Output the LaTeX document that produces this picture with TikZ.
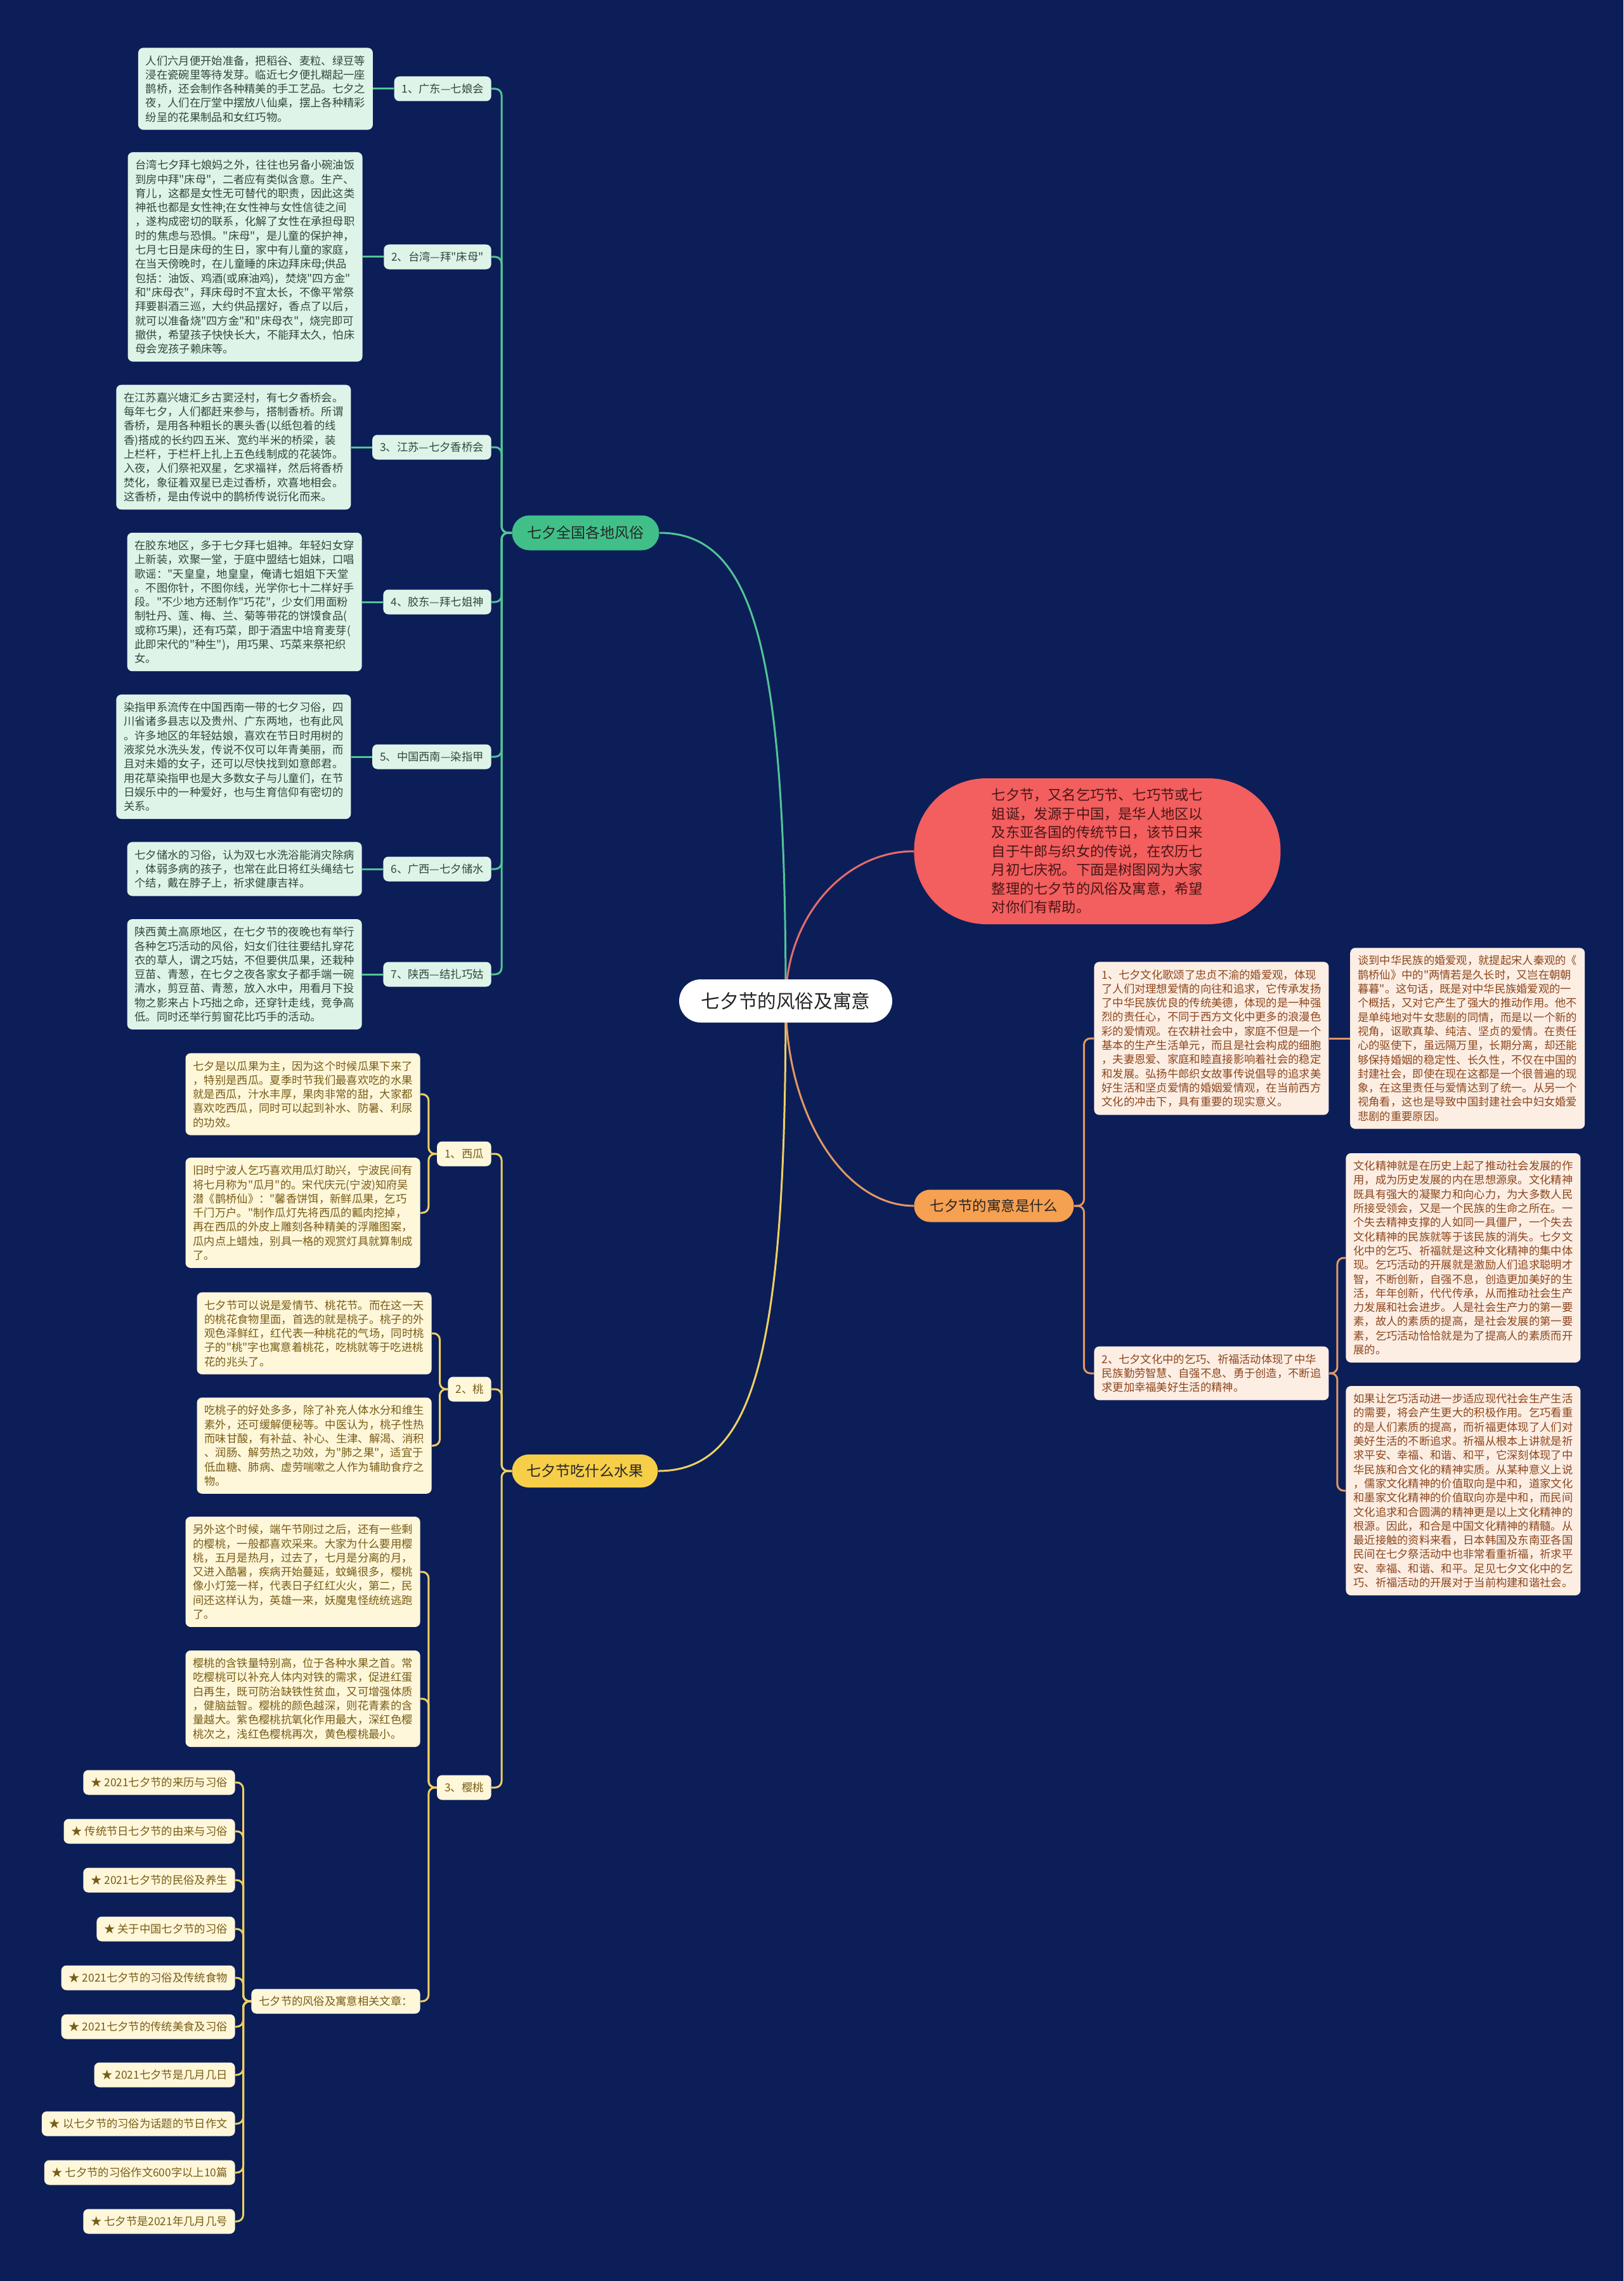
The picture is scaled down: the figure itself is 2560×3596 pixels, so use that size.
\documentclass[tikz,border=0pt]{standalone}
\usepackage{fontspec}
\setmainfont{Noto Sans CJK SC}[Ligatures=TeXOff]
\usetikzlibrary{positioning,calc}
\definecolor{bgc}{RGB}{12,30,88}
\definecolor{gfill}{RGB}{222,244,233}
\definecolor{gtext}{RGB}{48,72,58}
\definecolor{gline}{RGB}{82,196,150}
\definecolor{gpill}{RGB}{64,192,136}
\definecolor{yfill}{RGB}{255,247,218}
\definecolor{ytext}{RGB}{120,92,22}
\definecolor{yline}{RGB}{238,208,98}
\definecolor{ypill}{RGB}{247,206,72}
\definecolor{ofill}{RGB}{253,238,228}
\definecolor{otext}{RGB}{140,70,28}
\definecolor{oline}{RGB}{226,152,98}
\definecolor{opill}{RGB}{246,160,82}
\definecolor{rpill}{RGB}{243,94,94}
\definecolor{rline}{RGB}{230,108,108}
\definecolor{rtext}{RGB}{72,22,22}
\pgfdeclarelayer{bgl}\pgfdeclarelayer{edges}\pgfsetlayers{bgl,edges,main}
\newcommand\blockfont{\fontsize{8.65pt}{11.15pt}\selectfont}
\newcommand\brk[3]{\draw[#1] let \p1=(#2), \p2=(#3) in (\p1) -- ({(\x1+\x2)/2},\y1) -- ({(\x1+\x2)/2},\y2) -- (\p2);}
\tikzset{
  blk/.style={rounded corners=4pt, align=left, inner xsep=6pt, inner ysep=6pt, font=\blockfont},
  gblk/.style={blk, fill=gfill, text=gtext},
  yblk/.style={blk, fill=yfill, text=ytext},
  oblk/.style={blk, fill=ofill, text=otext},
  lab/.style={rounded corners=4pt, inner xsep=6pt, inner ysep=4pt, font=\blockfont, minimum height=19.5pt},
  glab/.style={lab, fill=gfill, text=gtext},
  ylab/.style={lab, fill=yfill, text=ytext},
  link/.style={line width=1.5pt, rounded corners=5pt},
  glink/.style={link, draw=gline},
  ylink/.style={link, draw=yline},
  olink/.style={link, draw=oline},
  branch/.style={line width=1.5pt},
  pill/.style={rounded corners=13pt, minimum height=26pt, inner xsep=8pt},
  rootn/.style={fill=white, text=black!85, rounded corners=17pt, minimum width=168pt, minimum height=34pt, font=\fontsize{14.8pt}{16pt}\selectfont},
}
\begin{document}
\begin{tikzpicture}[x=0.5pt,y=-0.5pt]
\begin{pgfonlayer}{bgl}
\fill[bgc] (0,0) rectangle (2560,3596);
\end{pgfonlayer}
\useasboundingbox (0,0) rectangle (2560,3596);

% ---------- main nodes
\node[rootn] (root) at (1239,1578) {七夕节的风俗及寓意};
\node[pill, fill=gpill, text=black!85, anchor=west, minimum width=116pt, minimum height=27.5pt, rounded corners=13.75pt, font=\fontsize{11.5pt}{13pt}\selectfont] (G) at (807,840) {七夕全国各地风俗};
\node[pill, fill=ypill, text=black!85, anchor=west, minimum width=115pt, font=\fontsize{11.5pt}{13pt}\selectfont] (Y) at (807,2319) {七夕节吃什么水果};
\node[pill, fill=opill, text=black!85, anchor=west, minimum width=126pt, minimum height=25.5pt, rounded corners=12.75pt, font=\fontsize{11.2pt}{13pt}\selectfont] (O) at (1441,1901) {七夕节的寓意是什么};
\node[fill=rpill, text=rtext, anchor=west, rounded corners=57pt, minimum width=289pt, minimum height=115pt, align=left, font=\fontsize{11.1pt}{14.75pt}\selectfont] (intro) at (1441,1342) {七夕节，又名乞巧节、七巧节或七\\姐诞，发源于中国，是华人地区以\\及东亚各国的传统节日，该节日来\\自于牛郎与织女的传说，在农历七\\月初七庆祝。下面是树图网为大家\\整理的七夕节的风俗及寓意，希望\\对你们有帮助。};

% ---------- green branch
\node[glab,anchor=east] (L1) at (775,140) {1、广东—七娘会};
\node[gblk,left=16.5pt of L1] (B1) {人们六月便开始准备，把稻谷、麦粒、绿豆等\\浸在瓷碗里等待发芽。临近七夕便扎糊起一座\\鹊桥，还会制作各种精美的手工艺品。七夕之\\夜，人们在厅堂中摆放八仙桌，摆上各种精彩\\纷呈的花果制品和女红巧物。};
\node[glab,anchor=east] (L2) at (775,405) {2、台湾—拜"床母"};
\node[gblk,left=16.5pt of L2] (B2) {台湾七夕拜七娘妈之外，往往也另备小碗油饭\\到房中拜"床母"，二者应有类似含意。生产、\\育儿，这都是女性无可替代的职责，因此这类\\神祇也都是女性神;在女性神与女性信徒之间\\，遂构成密切的联系，化解了女性在承担母职\\时的焦虑与恐惧。"床母"，是儿童的保护神，\\七月七日是床母的生日，家中有儿童的家庭，\\在当天傍晚时，在儿童睡的床边拜床母;供品\\包括：油饭、鸡酒(或麻油鸡)，焚烧"四方金"\\和"床母衣"，拜床母时不宜太长，不像平常祭\\拜要斟酒三巡，大约供品摆好，香点了以后，\\就可以准备烧"四方金"和"床母衣"，烧完即可\\撤供，希望孩子快快长大，不能拜太久，怕床\\母会宠孩子赖床等。};
\node[glab,anchor=east] (L3) at (775,705) {3、江苏—七夕香桥会};
\node[gblk,left=16.5pt of L3] (B3) {在江苏嘉兴塘汇乡古窦泾村，有七夕香桥会。\\每年七夕，人们都赶来参与，搭制香桥。所谓\\香桥，是用各种粗长的裹头香(以纸包着的线\\香)搭成的长约四五米、宽约半米的桥梁，装\\上栏杆，于栏杆上扎上五色线制成的花装饰。\\入夜，人们祭祀双星，乞求福祥，然后将香桥\\焚化，象征着双星已走过香桥，欢喜地相会。\\这香桥，是由传说中的鹊桥传说衍化而来。};
\node[glab,anchor=east] (L4) at (775,949) {4、胶东—拜七姐神};
\node[gblk,left=16.5pt of L4] (B4) {在胶东地区，多于七夕拜七姐神。年轻妇女穿\\上新装，欢聚一堂，于庭中盟结七姐妹，口唱\\歌谣："天皇皇，地皇皇，俺请七姐姐下天堂\\。不图你针，不图你线，光学你七十二样好手\\段。"不少地方还制作"巧花"，少女们用面粉\\制牡丹、莲、梅、兰、菊等带花的饼馍食品(\\或称巧果)，还有巧菜，即于酒盅中培育麦芽(\\此即宋代的"种生")，用巧果、巧菜来祭祀织\\女。};
\node[glab,anchor=east] (L5) at (775,1193) {5、中国西南—染指甲};
\node[gblk,left=16.5pt of L5] (B5) {染指甲系流传在中国西南一带的七夕习俗，四\\川省诸多县志以及贵州、广东两地，也有此风\\。许多地区的年轻姑娘，喜欢在节日时用树的\\液浆兑水洗头发，传说不仅可以年青美丽，而\\且对未婚的女子，还可以尽快找到如意郎君。\\用花草染指甲也是大多数女子与儿童们，在节\\日娱乐中的一种爱好，也与生育信仰有密切的\\关系。};
\node[glab,anchor=east] (L6) at (775,1370) {6、广西—七夕储水};
\node[gblk,left=16.5pt of L6] (B6) {七夕储水的习俗，认为双七水洗浴能消灾除病\\，体弱多病的孩子，也常在此日将红头绳结七\\个结，戴在脖子上，祈求健康吉祥。};
\node[glab,anchor=east] (L7) at (775,1536) {7、陕西—结扎巧姑};
\node[gblk,left=16.5pt of L7] (B7) {陕西黄土高原地区，在七夕节的夜晚也有举行\\各种乞巧活动的风俗，妇女们往往要结扎穿花\\衣的草人，谓之巧姑，不但要供瓜果，还栽种\\豆苗、青葱，在七夕之夜各家女子都手端一碗\\清水，剪豆苗、青葱，放入水中，用看月下投\\物之影来占卜巧拙之命，还穿针走线，竞争高\\低。同时还举行剪窗花比巧手的活动。};

% ---------- yellow branch
\node[ylab,anchor=east] (W) at (775,1819) {1、西瓜};
\node[yblk,anchor=east] (F1a) at (663,1725) {七夕是以瓜果为主，因为这个时候瓜果下来了\\，特别是西瓜。夏季时节我们最喜欢吃的水果\\就是西瓜，汁水丰厚，果肉非常的甜，大家都\\喜欢吃西瓜，同时可以起到补水、防暑、利尿\\的功效。};
\node[yblk,anchor=east] (F1b) at (663,1912) {旧时宁波人乞巧喜欢用瓜灯助兴，宁波民间有\\将七月称为"瓜月"的。宋代庆元(宁波)知府吴\\潜《鹊桥仙》："馨香饼饵，新鲜瓜果，乞巧\\千门万户。"制作瓜灯先将西瓜的瓤肉挖掉，\\再在西瓜的外皮上雕刻各种精美的浮雕图案，\\瓜内点上蜡烛，别具一格的观赏灯具就算制成\\了。};
\node[ylab,anchor=east] (P) at (775,2190) {2、桃};
\node[yblk,anchor=east] (F2a) at (681,2102) {七夕节可以说是爱情节、桃花节。而在这一天\\的桃花食物里面，首选的就是桃子。桃子的外\\观色泽鲜红，红代表一种桃花的气场，同时桃\\子的"桃"字也寓意着桃花，吃桃就等于吃进桃\\花的兆头了。};
\node[yblk,anchor=east] (F2b) at (681,2279) {吃桃子的好处多多，除了补充人体水分和维生\\素外，还可缓解便秘等。中医认为，桃子性热\\而味甘酸，有补益、补心、生津、解渴、消积\\、润肠、解劳热之功效，为"肺之果"，适宜于\\低血糖、肺病、虚劳喘嗽之人作为辅助食疗之\\物。};
\node[ylab,anchor=east] (C) at (775,2818) {3、樱桃};
\node[yblk,anchor=east] (F3a) at (663,2478) {另外这个时候，端午节刚过之后，还有一些剩\\的樱桃，一般都喜欢采来。大家为什么要用樱\\桃，五月是热月，过去了，七月是分离的月，\\又进入酷暑，疾病开始蔓延，蚊蝇很多，樱桃\\像小灯笼一样，代表日子红红火火，第二，民\\间还这样认为，英雄一来，妖魔鬼怪统统逃跑\\了。};
\node[yblk,anchor=east] (F3b) at (663,2678) {樱桃的含铁量特别高，位于各种水果之首。常\\吃樱桃可以补充人体内对铁的需求，促进红蛋\\白再生，既可防治缺铁性贫血，又可增强体质\\，健脑益智。樱桃的颜色越深，则花青素的含\\量越大。紫色樱桃抗氧化作用最大，深红色樱\\桃次之，浅红色樱桃再次，黄色樱桃最小。};
\node[ylab,anchor=east] (A) at (663,3155) {七夕节的风俗及寓意相关文章：};
\node[ylab,anchor=east] (A1) at (371,2810) {★ 2021七夕节的来历与习俗};
\node[ylab,anchor=east] (A2) at (371,2887) {★ 传统节日七夕节的由来与习俗};
\node[ylab,anchor=east] (A3) at (371,2964) {★ 2021七夕节的民俗及养生};
\node[ylab,anchor=east] (A4) at (371,3041) {★ 关于中国七夕节的习俗};
\node[ylab,anchor=east] (A5) at (371,3118) {★ 2021七夕节的习俗及传统食物};
\node[ylab,anchor=east] (A6) at (371,3195) {★ 2021七夕节的传统美食及习俗};
\node[ylab,anchor=east] (A7) at (371,3271) {★ 2021七夕节是几月几日};
\node[ylab,anchor=east] (A8) at (371,3348) {★ 以七夕节的习俗为话题的节日作文};
\node[ylab,anchor=east] (A9) at (371,3425) {★ 七夕节的习俗作文600字以上10篇};
\node[ylab,anchor=east] (A10) at (371,3502) {★ 七夕节是2021年几月几号};

% ---------- orange branch
\node[oblk,anchor=west] (R1) at (1725,1637) {1、七夕文化歌颂了忠贞不渝的婚爱观，体现\\了人们对理想爱情的向往和追求，它传承发扬\\了中华民族优良的传统美德，体现的是一种强\\烈的责任心，不同于西方文化中更多的浪漫色\\彩的爱情观。在农耕社会中，家庭不但是一个\\基本的生产生活单元，而且是社会构成的细胞\\，夫妻恩爱、家庭和睦直接影响着社会的稳定\\和发展。弘扬牛郎织女故事传说倡导的追求美\\好生活和坚贞爱情的婚姻爱情观，在当前西方\\文化的冲击下，具有重要的现实意义。};
\node[oblk,right=16.5pt of R1] (R1c) {谈到中华民族的婚爱观，就提起宋人秦观的《\\鹊桥仙》中的"两情若是久长时，又岂在朝朝\\暮暮"。这句话，既是对中华民族婚爱观的一\\个概括，又对它产生了强大的推动作用。他不\\是单纯地对牛女悲剧的同情，而是以一个新的\\视角，讴歌真挚、纯洁、坚贞的爱情。在责任\\心的驱使下，虽远隔万里，长期分离，却还能\\够保持婚姻的稳定性、长久性，不仅在中国的\\封建社会，即使在现在这都是一个很普遍的现\\象，在这里责任与爱情达到了统一。从另一个\\视角看，这也是导致中国封建社会中妇女婚爱\\悲剧的重要原因。};
\node[oblk,anchor=west] (R2) at (1725,2165) {2、七夕文化中的乞巧、祈福活动体现了中华\\民族勤劳智慧、自强不息、勇于创造，不断追\\求更加幸福美好生活的精神。};
\node[oblk,anchor=west] (R2a) at (2122,1983) {文化精神就是在历史上起了推动社会发展的作\\用，成为历史发展的内在思想源泉。文化精神\\既具有强大的凝聚力和向心力，为大多数人民\\所接受领会，又是一个民族的生命之所在。一\\个失去精神支撑的人如同一具僵尸，一个失去\\文化精神的民族就等于该民族的消失。七夕文\\化中的乞巧、祈福就是这种文化精神的集中体\\现。乞巧活动的开展就是激励人们追求聪明才\\智，不断创新，自强不息，创造更加美好的生\\活，年年创新，代代传承，从而推动社会生产\\力发展和社会进步。人是社会生产力的第一要\\素，故人的素质的提高，是社会发展的第一要\\素，乞巧活动恰恰就是为了提高人的素质而开\\展的。};
\node[oblk,anchor=west] (R2b) at (2122,2350) {如果让乞巧活动进一步适应现代社会生产生活\\的需要，将会产生更大的积极作用。乞巧看重\\的是人们素质的提高，而祈福更体现了人们对\\美好生活的不断追求。祈福从根本上讲就是祈\\求平安、幸福、和谐、和平，它深刻体现了中\\华民族和合文化的精神实质。从某种意义上说\\，儒家文化精神的价值取向是中和，道家文化\\和墨家文化精神的价值取向亦是中和，而民间\\文化追求和合圆满的精神更是以上文化精神的\\根源。因此，和合是中国文化精神的精髓。从\\最近接触的资料来看，日本韩国及东南亚各国\\民间在七夕祭活动中也非常看重祈福，祈求平\\安、幸福、和谐、和平。足见七夕文化中的乞\\巧、祈福活动的开展对于当前构建和谐社会。};

% ---------- connectors
\begin{pgfonlayer}{edges}
\draw[branch, draw=gline] (root.center) .. controls (1239,1024) and (1189,840) .. (G.east);
\draw[branch, draw=yline] (root.center) .. controls (1239,2134) and (1189,2319) .. (Y.east);
\draw[branch, draw=rline] (root.center) .. controls (1239,1448) and (1330,1342) .. (intro.west);
\draw[branch, draw=oline] (root.center) .. controls (1239,1755) and (1330,1901) .. (O.west);
\foreach \i in {1,...,7}{\brk{glink}{G.west}{L\i.east}\draw[glink] (L\i.west) -- (B\i.east);}
\brk{ylink}{Y.west}{W.east}
\brk{ylink}{Y.west}{P.east}
\brk{ylink}{Y.west}{C.east}
\brk{ylink}{W.west}{F1a.east}
\brk{ylink}{W.west}{F1b.east}
\brk{ylink}{P.west}{F2a.east}
\brk{ylink}{P.west}{F2b.east}
\brk{ylink}{C.west}{F3a.east}
\brk{ylink}{C.west}{F3b.east}
\brk{ylink}{C.west}{A.east}
\foreach \i in {1,...,10}{\brk{ylink}{A.west}{A\i.east}}
\brk{olink}{O.east}{R1.west}
\brk{olink}{O.east}{R2.west}
\draw[olink] (R1.east) -- (R1c.west);
\brk{olink}{R2.east}{R2a.west}
\brk{olink}{R2.east}{R2b.west}
\end{pgfonlayer}
\end{tikzpicture}
\end{document}
